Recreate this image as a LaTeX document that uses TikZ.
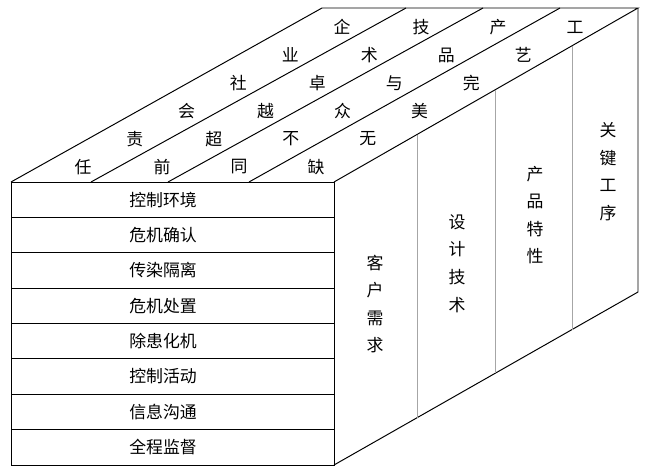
\documentclass[tikz,border=0pt]{standalone}
\usepackage{fontspec}
\newfontfamily\cjk{Noto Sans CJK SC}
\usetikzlibrary{calc}
\tikzset{
  edge/.style={line width=0.7pt},
  divider/.style={gray!70, line width=0.6pt},
  cell/.style={font=\cjk\fontsize{12}{14}\selectfont, inner sep=0pt},
  column/.style={font=\cjk\fontsize{12}{19.6}\selectfont, align=center, inner sep=0pt}
}
\begin{document}
\begin{tikzpicture}[x=0.025cm, y=-0.025cm]
  \useasboundingbox (0,0) rectangle (645,468);
  % Corners
  \coordinate (FL) at (11,182);
  \coordinate (FR) at (334,182);
  \coordinate (BL) at (11,465);
  \coordinate (BR) at (334,465);
  \coordinate (TL) at (322,8);
  \coordinate (TR) at (638,8);
  \coordinate (DR) at (638,292);
  % Outline
  \draw[edge] (BL) rectangle (FR);
  \draw[edge] (FL) -- (TL) -- (TR) -- (FR);
  \draw[edge] (TR) -- (DR) -- (BR);
  % Front rows
  \foreach \i in {1,...,7}
    \draw[edge] (11,{182+35.375*\i}) -- (334,{182+35.375*\i});
  \foreach \t [count=\i] in {控制环境,危机确认,传染隔离,危机处置,除患化机,控制活动,信息沟通,全程监督}
    \node (row\i) [cell] at (163,{182+35.375*(\i-0.5)}) {\t};
  % Top strips
  \foreach \a/\b in {91/406,168/483,249/560}
    \draw[edge] (\a,182) -- (\b,8);
  \foreach \x/\l [count=\s] in {83/{任,责,会,社,业,企},162/{前,超,越,卓,术,技},239/{同,不,众,与,品,产},316/{缺,无,美,完,艺,工}}
    \foreach \c [count=\k from 0] in \l
      \node (top\s\k) [cell] at ({\x+51.8*\k},{167-28*\k}) {\c};
  % Side columns
  \foreach \f in {0.273,0.530,0.783}
    \draw[divider] ($(FR)!\f!(TR)$) -- ($(BR)!\f!(DR)$);
  \node (need) [column] at (375,304) {客\\户\\需\\求};
  \node (design) [column] at (457,263.5) {设\\计\\技\\术};
  \node (product) [column] at (535,215) {产\\品\\特\\性};
  \node (process) [column] at (608,171.5) {关\\键\\工\\序};
\end{tikzpicture}
\end{document}
